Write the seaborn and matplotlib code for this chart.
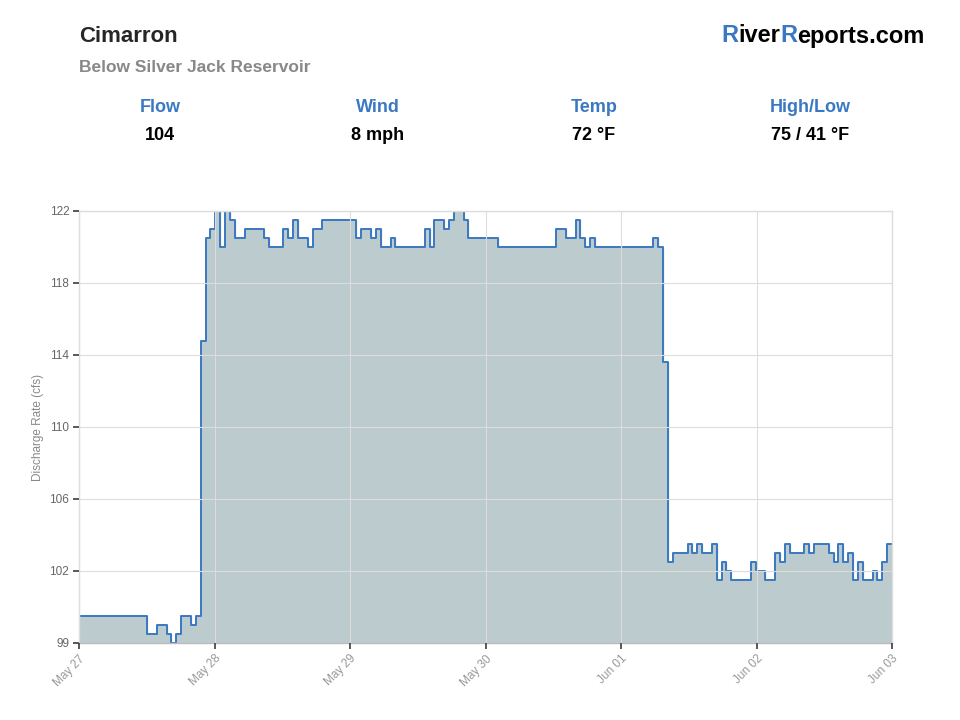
import numpy as np
import pandas as pd
import matplotlib
matplotlib.use("Agg")
import matplotlib.pyplot as plt
import seaborn as sns

values = [99.5,98.5,99,98.5,98,98.5,99.5,99,99.5,114.8,120.5,121,122.5,120,122.5,121.5,120.5,121,120.5,120,
          121,120.5,121.5,120.5,120,121,121.5,120.5,121,120.5,121,120,120.5,120,121,120,121.5,121,121.5,122.3,121.5,120.5,
          120,121,120.5,121.5,120.5,120,120.5,120,120.5,120,
          113.6,102.5,103,103.5,103,103.5,103,103.5,101.5,102.5,102,101.5,102.5,102,101.5,103,102.5,103.5,103,103.5,
          103,103.5,103,102.5,103.5,102.5,103,101.5,102.5,101.5,102,101.5,102.5,103.5]
steps = [14,2,2,1,1,1,2,1,1,1,1,1,1,1,1,1,2,4,1,3,
         1,1,1,2,1,2,7,1,2,1,1,2,1,6,1,1,2,1,1,2,1,6,
         12,2,2,1,1,1,1,12,1,1,
         1,1,3,1,1,1,2,1,1,1,1,4,1,2,2,1,1,1,3,1,
         1,3,1,1,1,1,1,1,1,2,1,1,1,1]
xtick_labels = ["May 27","May 28","May 29","May 30","Jun 01","Jun 02","Jun 03"]
ytick_vals = [98,102,106,110,114,118,122]
ytick_labels = ["99","102","106","110","114","118","122"]
stat_names = ["Flow","Wind","Temp","High/Low"]
stat_vals = ["104","8 mph","72 °F","75 / 41 °F"]

flow = np.repeat(values, steps)
flow = np.append(flow, flow[-1])
start = pd.Timestamp("2024-05-27")
end = start + pd.Timedelta(days=6)
t = pd.date_range(start, end, periods=len(flow))
df = pd.DataFrame({"time": t, "flow": flow})

sns.set_theme(style="whitegrid")
plt.rcParams['font.family'] = ['Liberation Sans', 'DejaVu Sans']
fig = plt.figure(figsize=(9.6, 7.2), dpi=100)
ax = fig.add_axes([79/960, 1-643/720, (892-79)/960, (643-211)/720])
ax.fill_between(df["time"], df["flow"], 90, step="post", color="#bccbcd", zorder=1)
sns.lineplot(data=df, x="time", y="flow", drawstyle="steps-post", color="#3b78c2", lw=1.4, ax=ax, zorder=2)
ax.set_ylim(98, 122)
ax.set_xlim(start, end)
ax.set_yticks(ytick_vals)
ax.set_yticklabels(ytick_labels, fontsize=8.5, color="#666666")
ax.set_xticks(pd.date_range(start, end, freq="D"))
ax.set_xticklabels(xtick_labels, rotation=45, fontsize=8.5, color="#999999", ha="right", rotation_mode="anchor")
ax.set_xlabel("")
ax.set_ylabel("Discharge Rate (cfs)", fontsize=8.5, color="#888888")
ax.grid(True, color="#dddddd", lw=0.8)
ax.set_axisbelow(False)
for s in ax.spines.values():
    s.set_color("#dddddd"); s.set_linewidth(1)
ax.spines["bottom"].set_color("#bbbbbb")
ax.tick_params(axis="both", length=4, color="#444444", bottom=True, left=True, pad=3)

fig.text(79/960, 1-36/720, "Cimarron", fontsize=16, fontweight="bold", va="center")
fig.text(79/960, 1-67/720, "Below Silver Jack Reservoir", fontsize=12.5, fontweight="bold", color="#888888", va="center")

parts = [("R", "#3b78c2"), ("iver", "black"), ("R", "#3b78c2"), ("eports.com", "black")]
fig.canvas.draw()
r = fig.canvas.get_renderer()
texts = []
for s, c in parts:
    tx = fig.text(0, 1-36/720, s, fontsize=17, fontweight="bold", color=c, va="center")
    w = tx.get_window_extent(r).width / fig.bbox.width
    texts.append((tx, w))
total = sum(w for _, w in texts)
x = 925/960 - total
for tx, w in texts:
    tx.set_x(x); x += w

for xc, n, v in zip([160, 378, 594, 810], stat_names, stat_vals):
    fig.text(xc/960, 1-108/720, n, fontsize=13, fontweight="bold", color="#3b78c2", ha="center", va="center")
    fig.text(xc/960, 1-136/720, v, fontsize=13, fontweight="bold", color="black", ha="center", va="center")

fig.savefig("out.png", dpi=100)
